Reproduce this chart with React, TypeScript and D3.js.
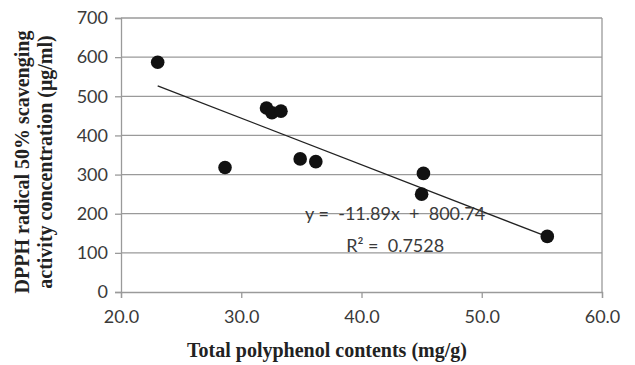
import { useEffect, useRef } from 'react';
import * as d3 from 'd3';

// data
const polyphenol = [23.05, 28.65, 32.1, 32.55, 33.3, 34.9, 36.2, 45.15, 45.0, 55.45];
const dpph = [587, 318, 470, 458, 462, 340, 333, 303, 250, 142];
const xTicks = [20, 30, 40, 50, 60];
const yTicks = [0, 100, 200, 300, 400, 500, 600, 700];
const slope = -11.89;
const intercept = 800.74;
const equationText = 'y =  -11.89x  +  800.74';
const r2Text = 'R² =  0.7528';

export default function App() {
  const svgRef = useRef<SVGSVGElement>(null);

  useEffect(() => {
    const W = 635;
    const H = 365;
    const margin = { top: 18, right: 33, bottom: 73, left: 121 };
    const width = W - margin.left - margin.right;
    const height = H - margin.top - margin.bottom;

    const root = d3.select(svgRef.current);
    root.selectAll('*').remove();
    root.attr('width', W).attr('height', H);

    root.append('rect').attr('width', W).attr('height', H).attr('fill', '#fff');

    const svg = root.append('g').attr('transform', `translate(${margin.left},${margin.top})`);

    const x = d3.scaleLinear().domain([20, 60]).range([0, width]);
    const y = d3.scaleLinear().domain([0, 700]).range([height, 0]);

    // horizontal gridlines
    svg.append('g')
      .selectAll('line')
      .data(yTicks.filter(t => t > 0))
      .enter()
      .append('line')
      .attr('x1', 0)
      .attr('x2', width)
      .attr('y1', d => y(d))
      .attr('y2', d => y(d))
      .attr('stroke', '#9a9a9a')
      .attr('stroke-width', 1.3);

    // right border
    svg.append('line')
      .attr('x1', width).attr('x2', width)
      .attr('y1', 0).attr('y2', height)
      .attr('stroke', '#9a9a9a').attr('stroke-width', 1.3);

    const fontTick = 'Lato, "Open Sans", sans-serif';

    // y axis
    const yAxis = d3.axisLeft(y).tickValues(yTicks).tickSize(6).tickPadding(7).tickFormat(d3.format('d'));
    const gy = svg.append('g').call(yAxis);
    gy.selectAll('line').attr('stroke', '#9a9a9a').attr('stroke-width', 1.3);
    gy.select('.domain').attr('stroke', '#9a9a9a').attr('stroke-width', 1.3);
    gy.selectAll('text')
      .attr('fill', '#3a3a3a')
      .style('font-size', '18px')
      .style('font-family', fontTick);

    // x axis
    const xAxis = d3.axisBottom(x).tickValues(xTicks).tickSize(6).tickPadding(12).tickFormat(d3.format('.1f'));
    const gx = svg.append('g').attr('transform', `translate(0,${height})`).call(xAxis);
    gx.selectAll('line').attr('stroke', '#9a9a9a').attr('stroke-width', 1.3);
    gx.select('.domain').attr('stroke', '#9a9a9a').attr('stroke-width', 1.3);
    gx.selectAll('text')
      .attr('fill', '#3a3a3a')
      .style('font-size', '18px')
      .style('font-family', fontTick);

    // trendline
    const xMin = d3.min(polyphenol) as number;
    const xMax = d3.max(polyphenol) as number;
    svg.append('line')
      .attr('x1', x(xMin)).attr('y1', y(slope * xMin + intercept))
      .attr('x2', x(xMax)).attr('y2', y(slope * xMax + intercept))
      .attr('stroke', '#222')
      .attr('stroke-width', 1.3);

    // points
    svg.selectAll('circle')
      .data(polyphenol.map((v, i) => ({ x: v, y: dpph[i] })))
      .enter()
      .append('circle')
      .attr('cx', d => x(d.x))
      .attr('cy', d => y(d.y))
      .attr('r', 6.8)
      .attr('fill', '#111');

    // equation labels
    svg.append('text')
      .attr('x', x(42.8))
      .attr('y', y(196))
      .attr('text-anchor', 'middle')
      .attr('dominant-baseline', 'middle')
      .attr('fill', '#3a3a3a')
      .style('font-size', '18px')
      .style('font-family', fontTick)
      .style('white-space', 'pre')
      .text(equationText);

    svg.append('text')
      .attr('x', x(42.8))
      .attr('y', y(114))
      .attr('text-anchor', 'middle')
      .attr('dominant-baseline', 'middle')
      .attr('fill', '#3a3a3a')
      .style('font-size', '18px')
      .style('font-family', fontTick)
      .style('white-space', 'pre')
      .text(r2Text);

    // axis titles
    const serif = '"Liberation Serif", "DejaVu Serif", serif';
    root.append('text')
      .attr('x', 327)
      .attr('y', 357)
      .attr('text-anchor', 'middle')
      .attr('fill', '#222')
      .style('font-size', '20px')
      .style('font-weight', 'bold')
      .style('font-family', serif)
      .text('Total polyphenol contents (mg/g)');

    const yt = root.append('text')
      .attr('transform', 'translate(0,162) rotate(-90)')
      .attr('text-anchor', 'middle')
      .attr('fill', '#222')
      .style('font-size', '20px')
      .style('font-weight', 'bold')
      .style('font-family', serif);
    yt.append('tspan').attr('x', 0).attr('y', 29).text('DPPH radical 50% scavenging');
    yt.append('tspan').attr('x', 0).attr('y', 52).text('activity concentration (μg/ml)');
  }, []);

  return <svg ref={svgRef} style={{ position: 'absolute', left: 0, top: 0 }} />;
}
